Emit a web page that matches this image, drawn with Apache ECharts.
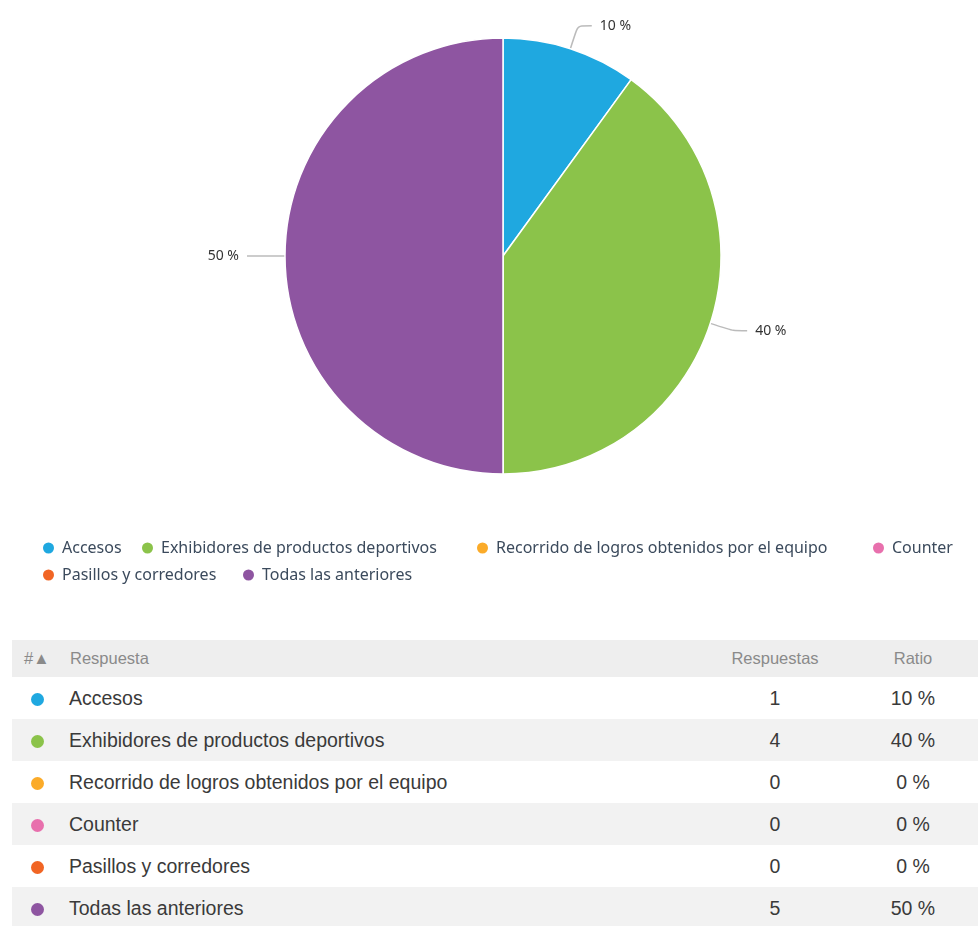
<!DOCTYPE html>
<html>
<head>
<meta charset="utf-8">
<script src="https://cdn.jsdelivr.net/npm/echarts@6/dist/echarts.min.js"></script>
<style>
  body { margin: 0; background: #fff; }
  #chart { position: absolute; left: 0; top: 0; width: 978px; height: 630px; }
  #tbl { position: absolute; left: 12px; top: 640px; width: 966px; border-collapse: collapse;
         font-family: "Liberation Sans", Arial, sans-serif; color: #333; table-layout: fixed; }
  #tbl th { height: 37px; font-weight: normal; font-size: 16.5px; color: #8a8a8a; background: #eeeeee; padding: 0; }
  #tbl td { height: 42px; font-size: 19.5px; padding: 0; color: #3a3a3a; }
  #tbl tr.alt td { background: #f2f2f2; }
  .dot { display: inline-block; width: 13px; height: 13px; border-radius: 50%; vertical-align: middle; }
</style>
</head>
<body>
<div id="chart"></div>
<table id="tbl"></table>
<script>
const categories = [
  'Accesos',
  'Exhibidores de productos deportivos',
  'Recorrido de logros obtenidos por el equipo',
  'Counter',
  'Pasillos y corredores',
  'Todas las anteriores'
];
const responses = [1, 4, 0, 0, 0, 5];
const ratios = ['10 %', '40 %', '0 %', '0 %', '0 %', '50 %'];
const colors = ['#1fa8e0', '#8bc34a', '#fbab29', '#e870ad', '#f16524', '#8e55a1'];

// legend placement (icon left edge, row top)
const legendPos = [[41, 540], [140, 540], [475, 540], [871, 540], [41, 567], [241, 567]];

function initPie() {
  const chart = echarts.init(document.getElementById('chart'));
  const data = categories.map((name, i) => {
    const item = {name: name, value: responses[i], itemStyle: {color: colors[i]}};
    if (responses[i] === 0) {
      item.label = {show: false};
      item.labelLine = {show: false};
    }
    return item;
  });
  const legends = categories.map((name, i) => ({
    data: [name],
    left: legendPos[i][0],
    top: legendPos[i][1],
    icon: 'circle',
    itemWidth: 13,
    itemHeight: 13,
    padding: 0,
    selectedMode: false,
    textStyle: {
      fontFamily: 'Noto Sans',
      fontSize: 16,
      color: '#3b4a5c',
      padding: [0, 0, 0, 2]
    }
  }));
  chart.setOption({
    animation: false,
    legend: legends,
    series: [{
      type: 'pie',
      center: [503, 256],
      radius: [0, 218],
      startAngle: 90,
      clockwise: true,
      data: data,
      itemStyle: {borderColor: '#fff', borderWidth: 1.5},
      label: {
        formatter: p => Math.round(p.percent) + ' %',
        fontFamily: 'Noto Sans',
        fontSize: 14,
        color: '#333',
        distanceToLabelLine: 8
      },
      labelLine: {
        length: 24,
        length2: 14,
        smooth: 0.2,
        lineStyle: {color: '#bbb', width: 1.5}
      },
      emphasis: {disabled: true}
    }]
  });
}

function initTable() {
  const tbl = document.getElementById('tbl');
  let html = '<tr><th style="width:45px;text-align:left;padding-left:12px;box-sizing:border-box">#&#9650;</th>' +
    '<th style="text-align:left;padding-left:13px">Respuesta</th>' +
    '<th style="width:110px">Respuestas</th><th style="width:148px;padding-left:18px;box-sizing:border-box">Ratio</th></tr>';
  categories.forEach((name, i) => {
    html += `<tr class="${i % 2 === 1 ? 'alt' : ''}">` +
      `<td style="padding-left:19px"><span class="dot" style="background:${colors[i]}"></span></td>` +
      `<td style="padding-left:12px">${name}</td>` +
      `<td style="text-align:center">${responses[i]}</td>` +
      `<td style="text-align:center;padding-left:18px">${ratios[i]}</td></tr>`;
  });
  tbl.innerHTML = html;
}

initPie();
initTable();
</script>
</body>
</html>
